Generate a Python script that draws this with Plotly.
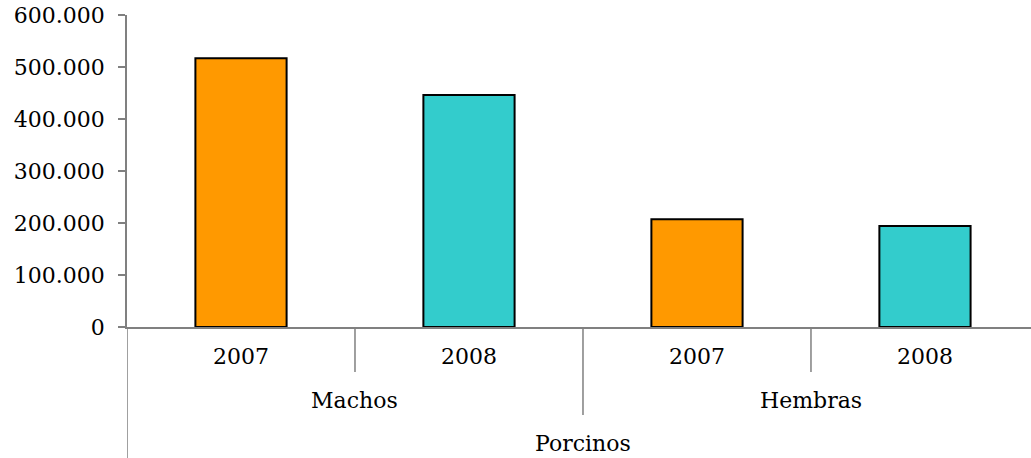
import plotly.graph_objects as go

# Data
years = ['2007', '2008', '2007', '2008']
sexes = ['Machos', 'Hembras']
species = 'Porcinos'
values = [517000, 446000, 207000, 194000]
bar_colors = ['#FF9900', '#33CCCC', '#FF9900', '#33CCCC']
y_ticks = [0, 100000, 200000, 300000, 400000, 500000, 600000]
y_tick_text = ['0', '100.000', '200.000', '300.000', '400.000', '500.000', '600.000']

FONT = 'DejaVu Serif'
AXIS_GREY = '#808080'

x_pos = list(range(len(values)))

fig = go.Figure(go.Bar(
    x=x_pos,
    y=values,
    width=0.4,
    marker=dict(color=bar_colors, line=dict(color='black', width=2)),
))

fig.update_layout(
    width=1031,
    height=458,
    margin=dict(l=127, r=0, t=15, b=131),
    plot_bgcolor='white',
    paper_bgcolor='white',
    showlegend=False,
    font=dict(family=FONT, size=22, color='black'),
)

fig.update_xaxes(
    range=[-0.5, 3.465],
    tickvals=x_pos,
    ticktext=years,
    ticks='',
    ticklabelstandoff=9,
    showline=True,
    linecolor=AXIS_GREY,
    linewidth=1.5,
    showgrid=False,
    zeroline=False,
)

fig.update_yaxes(
    range=[0, 600000],
    tickvals=y_ticks,
    ticktext=y_tick_text,
    ticks='outside',
    ticklen=7,
    tickcolor=AXIS_GREY,
    tickwidth=1.5,
    ticklabelstandoff=9,
    showline=True,
    linecolor=AXIS_GREY,
    linewidth=1.5,
    showgrid=False,
    zeroline=False,
)

# group dividers and extended y-axis line
line_style = dict(color=AXIS_GREY, width=1.5)
fig.add_shape(type='line', xref='x', yref='paper', x0=0.5, x1=0.5, y0=0, y1=-0.144, line=line_style)
fig.add_shape(type='line', xref='x', yref='paper', x0=2.5, x1=2.5, y0=0, y1=-0.144, line=line_style)
fig.add_shape(type='line', xref='x', yref='paper', x0=1.5, x1=1.5, y0=0, y1=-0.282, line=line_style)
fig.add_shape(type='line', xref='x', yref='paper', x0=-0.5, x1=-0.5, y0=0, y1=-0.42, line=line_style)

# second and third level labels
for i, sex in enumerate(sexes):
    fig.add_annotation(text=sex, xref='x', yref='paper', x=2 * i + 0.5, y=-0.237,
                       showarrow=False, yanchor='middle')
fig.add_annotation(text=species, xref='x', yref='paper', x=1.5, y=-0.372,
                   showarrow=False, yanchor='middle')

# drop the default body margin so the figure fills the window
fig.write_html('out.html', config={'displayModeBar': False},
               post_script="document.body.style.margin = '0';")
